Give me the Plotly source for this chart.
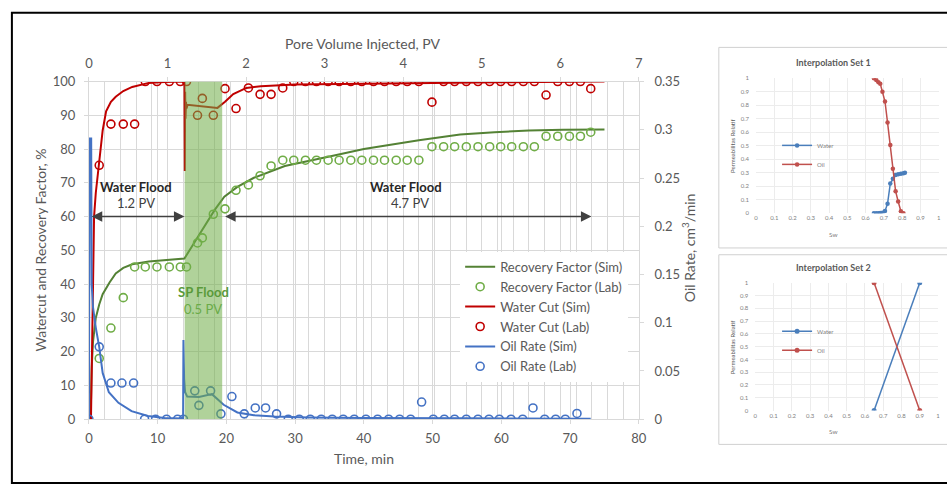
import plotly.graph_objects as go

W, H = 947, 494
FONT = "Lato"

# ---------------- main chart data ----------------
# Lab sampling times (min) for recovery factor and water cut
t_lab = [1.5, 3.2, 5.0, 6.65, 8.2, 9.9, 11.7, 13.3, 14.2, 15.8, 16.5, 18.1, 19.8, 21.4, 23.2,
         24.9, 26.5, 28.2, 29.8, 31.5, 33.1, 34.8, 36.4, 38.1, 39.7, 41.4, 43.0, 44.7, 46.3,
         48.0, 49.9, 51.6, 53.2, 54.9, 56.6, 58.3, 59.9, 61.5, 63.2, 64.8, 66.5, 68.2, 69.9,
         71.5, 73.0]
wc_lab = [75.2, 87.4, 87.4, 87.4, 100, 100, 100, 100, 100, 90.0, 95.0, 90.0, 97.9, 92.0, 98.1,
          96.2, 96.2, 98.1, 100, 100, 100, 100, 100, 100, 100, 100, 100, 100, 100,
          100, 93.9, 100, 100, 100, 100, 100, 100, 100, 100, 100, 96.0, 100, 100,
          100, 97.9]
rf_lab = [18.0, 27.0, 36.0, 45.1, 45.1, 45.1, 45.1, 45.1, 45.1, 52.2, 53.7, 60.7, 62.3, 67.8, 69.4,
          72.1, 75.0, 76.7, 76.7, 76.7, 76.7, 76.7, 76.7, 76.7, 76.7, 76.7, 76.7, 76.7, 76.7,
          76.7, 80.7, 80.7, 80.7, 80.7, 80.7, 80.7, 80.7, 80.7, 80.7, 80.7, 83.8, 83.8, 83.8,
          83.8, 85.0]

# Lab oil rate (cm3/min)
t_or_lab = [0, 1.5, 3.2, 4.8, 6.5, 8.1, 9.7, 11.3, 12.9, 13.75, 15.4, 16.0, 17.7, 19.2, 20.8,
            22.6, 24.2, 25.7, 27.3, 29.0, 30.6, 32.2, 33.8, 35.4, 37.0, 38.6, 40.3, 42.0, 43.6,
            45.2, 46.8, 48.4, 50.1, 51.7, 53.2, 54.9, 56.6, 58.2, 59.7, 61.4, 63.1, 64.6, 66.3,
            67.9, 69.3, 71.0]
or_lab = [0, 0.075, 0.0375, 0.0375, 0.0375, 0, 0, 0, 0, 0, 0.0294, 0.0144, 0.0294, 0.0056, 0.0235,
          0.0056, 0.0117, 0.0117, 0.0056, 0, 0, 0, 0, 0, 0, 0, 0, 0, 0,
          0, 0, 0.0178, 0, 0, 0, 0, 0, 0, 0, 0, 0, 0.0117, 0,
          0, 0, 0.006]

# Simulation curves
t_wc_sim = [0.3, 0.45, 0.6, 0.75, 1.0, 1.45, 2.0, 2.5, 3.2, 3.9, 5.0, 6.3, 8.7, 11.0, 13.9,
            13.95, 14.0, 14.05, 14.12, 14.2, 14.35, 16.0, 18.7, 19.8, 21.0, 22.9, 25.0, 30.0,
            40.0, 50.0, 60.0, 75.0]
wc_sim = [0, 20, 42, 60, 67, 75, 85.5, 91.2, 94.0, 95.5, 97.2, 98.4, 99.6, 99.9, 100,
          73.5, 97, 89, 94, 92, 93.1, 92.8, 92.2, 94.0, 96.3, 98.1, 98.6, 99.1,
          99.4, 99.6, 99.8, 100]

t_rf_sim = [0.25, 0.4, 0.6, 0.82, 1.0, 1.5, 2.0, 3.0, 3.9, 5.0, 6.3, 8.7, 11.0, 13.9, 16.0,
            18.3, 19.7, 21.6, 24.0, 28.5, 35.0, 40.0, 48.0, 54.0, 59.0, 64.0, 69.0, 75.0]
rf_sim = [0, 15, 23, 27.5, 30, 34, 37, 40.5, 43.2, 44.8, 45.9, 46.7, 47.1, 47.6, 54.5,
          62.0, 65.9, 68.8, 71.5, 75.0, 77.8, 80.0, 82.6, 84.3, 85.0, 85.5, 85.7, 85.8]

t_or_sim = [0, 0.1, 0.33, 0.4, 0.6, 1.0, 1.5, 2.0, 2.9, 4.3, 6.2, 8.6, 11.0, 13.7, 13.75,
            13.85, 14.0, 14.3, 16.0, 17.9, 19.6, 21.6, 24.0, 27.0, 32.0, 40.0, 55.0, 73.0]
or_sim = [0, 0.291, 0.291, 0.14, 0.116, 0.095, 0.075, 0.048, 0.028, 0.017, 0.0084, 0.0033,
          0.0014, 0.0007, 0.082, 0.042, 0.028, 0.0235, 0.023, 0.026, 0.015, 0.007, 0.0042,
          0.0028, 0.0018, 0.0012, 0.0009, 0.0005]

# Flood stages (min)
sp_start, sp_end = 13.93, 19.39
wf1_arrow = [0.19, 13.9]
wf2_arrow = [19.6, 73.1]
arrow_level = 60

oil_rate_ticks = [0, 0.05, 0.1, 0.15, 0.2, 0.25, 0.3, 0.35]
oil_rate_ticktext = ["0", "0.05", "0.1", "0.15", "0.2", "0.25", "0.3", "0.35"]

# ---------------- relative permeability panels ----------------
sw1 = [0.645, 0.658, 0.67, 0.68, 0.692, 0.706, 0.72, 0.735, 0.749, 0.764, 0.778, 0.793, 0.807, 0.815]
krw1 = [0, 0, 0, 0.001, 0.003, 0.015, 0.07, 0.22, 0.255, 0.283, 0.288, 0.292, 0.296, 0.3]
sw1_oil = [0.645, 0.658, 0.67, 0.68, 0.692, 0.706, 0.72, 0.735, 0.749, 0.764, 0.778, 0.793, 0.807]
kro1 = [1.0, 0.988, 0.971, 0.96, 0.90, 0.828, 0.672, 0.505, 0.33, 0.163, 0.086, 0.014, 0.0]

sw2 = [0.65, 0.9]
krw2 = [0, 1]
kro2 = [1, 0]

# ---------------- colours ----------------
GREEN_SIM = "#548235"
GREEN_LAB = "#70AD47"
RED = "#C00000"
BLUE = "#4472C4"
GRID = "#d9d9d9"
TXT = "#595959"
P_BLUE = "#4A7EBB"
P_RED = "#C0504D"


def px(x):
    return x / W


def py(y):
    return (H - y) / H


fig = go.Figure()

# main traces (legend order)
fig.add_trace(go.Scatter(x=t_rf_sim, y=rf_sim, mode="lines", name="Recovery Factor (Sim)",
                         line=dict(color=GREEN_SIM, width=2), xaxis="x", yaxis="y"))
fig.add_trace(go.Scatter(x=t_lab, y=rf_lab, mode="markers", name="Recovery Factor (Lab)",
                         marker=dict(symbol="circle-open", size=8, color=GREEN_LAB, line=dict(width=1.6)),
                         xaxis="x", yaxis="y"))
fig.add_trace(go.Scatter(x=t_wc_sim, y=wc_sim, mode="lines", name="Water Cut (Sim)",
                         line=dict(color=RED, width=2), xaxis="x", yaxis="y"))
fig.add_trace(go.Scatter(x=t_lab, y=wc_lab, mode="markers", name="Water Cut (Lab)",
                         marker=dict(symbol="circle-open", size=8, color=RED, line=dict(width=1.6)),
                         xaxis="x", yaxis="y"))
fig.add_trace(go.Scatter(x=t_or_sim, y=or_sim, mode="lines", name="Oil Rate (Sim)",
                         line=dict(color=BLUE, width=2), xaxis="x", yaxis="y2"))
fig.add_trace(go.Scatter(x=t_or_lab, y=or_lab, mode="markers", name="Oil Rate (Lab)",
                         marker=dict(symbol="circle-open", size=8, color=BLUE, line=dict(width=1.6)),
                         xaxis="x", yaxis="y2"))
# empty trace to register the PV (top) axis
fig.add_trace(go.Scatter(x=[], y=[], xaxis="x2", yaxis="y", showlegend=False, hoverinfo="skip"))

# panel 1
fig.add_trace(go.Scatter(x=sw1, y=krw1, mode="lines+markers", name="Water", legend="legend2",
                         line=dict(color=P_BLUE, width=1.5), marker=dict(size=4.5, color=P_BLUE),
                         xaxis="x3", yaxis="y3"))
fig.add_trace(go.Scatter(x=sw1_oil, y=kro1, mode="lines+markers", name="Oil", legend="legend2",
                         line=dict(color=P_RED, width=1.5), marker=dict(size=4.5, color=P_RED),
                         xaxis="x3", yaxis="y3"))
# panel 2
fig.add_trace(go.Scatter(x=sw2, y=krw2, mode="lines+markers", name="Water", legend="legend3",
                         line=dict(color=P_BLUE, width=1.5), marker=dict(size=5, color=P_BLUE),
                         xaxis="x4", yaxis="y4"))
fig.add_trace(go.Scatter(x=sw2, y=kro2, mode="lines+markers", name="Oil", legend="legend3",
                         line=dict(color=P_RED, width=1.5), marker=dict(size=5, color=P_RED),
                         xaxis="x4", yaxis="y4"))

tickfont = dict(family=FONT, size=13, color=TXT)
common = dict(showline=True, linecolor=GRID, linewidth=1, ticks="outside", ticklen=4,
              tickcolor=GRID, zeroline=False, tickfont=tickfont, gridcolor=GRID, gridwidth=1)

panel_ax = dict(range=[0, 1], dtick=0.1, showgrid=True, gridcolor="#ececec", zeroline=False,
                showline=False, ticks="", tickfont=dict(family=FONT, size=6, color="#7f7f7f"))

fig.update_layout(
    width=W, height=H, autosize=False,
    margin=dict(l=0, r=0, t=0, b=0),
    paper_bgcolor="white", plot_bgcolor="rgba(0,0,0,0)",
    font=dict(family=FONT, color=TXT),
    xaxis=dict(domain=[px(86), px(643)], range=[0, 80], dtick=10, anchor="y", showgrid=True,
               ticklabelstandoff=3, **common),
    xaxis2=dict(domain=[px(86), px(643)], range=[0, 7], dtick=1, overlaying="x", side="top",
                anchor="y", showgrid=True, ticklabelstandoff=3,
                minor=dict(dtick=0.2, showgrid=True, gridcolor=GRID, ticks=""), **common),
    yaxis=dict(domain=[py(425), py(76)], range=[0, 100], dtick=10, anchor="x", showgrid=True,
               ticklabelstandoff=6, **common),
    yaxis2=dict(domain=[py(425), py(76)], range=[0, 0.35], tickvals=oil_rate_ticks,
                ticktext=oil_rate_ticktext, overlaying="y", side="right", anchor="x",
                showgrid=False, ticklabelstandoff=8, **common),
    xaxis3=dict(domain=[px(761.7), px(946.7)], anchor="y3", **panel_ax),
    yaxis3=dict(domain=[py(212), py(72.7)], anchor="x3", ticklabelstandoff=6, **panel_ax),
    xaxis4=dict(domain=[px(761), px(946)], anchor="y4", **panel_ax),
    yaxis4=dict(domain=[py(416), py(284)], anchor="x4", ticklabelstandoff=6, **panel_ax),
    legend=dict(x=px(462), y=py(252), xanchor="left", yanchor="top", bgcolor="white",
                borderwidth=0, font=dict(family=FONT, size=13, color=TXT), itemwidth=30,
                tracegroupgap=0),
    legend2=dict(x=px(783), y=py(127), xanchor="left", yanchor="top", bgcolor="rgba(0,0,0,0)",
                 font=dict(family=FONT, size=6, color="#7f7f7f"), itemwidth=30),
    legend3=dict(x=px(783), y=py(319), xanchor="left", yanchor="top", bgcolor="rgba(0,0,0,0)",
                 font=dict(family=FONT, size=6, color="#7f7f7f"), itemwidth=30),
    showlegend=True,
)

# SP flood band (drawn above the curves, translucent)
fig.add_shape(type="rect", xref="x", yref="y", x0=sp_start, x1=sp_end, y0=0, y1=100,
              fillcolor="rgba(112,173,71,0.55)", line=dict(width=0), layer="above")

# outer frame and panel boxes
fig.add_shape(type="rect", xref="paper", yref="paper", x0=px(8), x1=px(1000), y0=py(491), y1=py(5),
              line=dict(color="black", width=2), fillcolor="rgba(0,0,0,0)", layer="above")
fig.add_shape(type="rect", xref="paper", yref="paper", x0=px(724), x1=px(1000), y0=py(248), y1=py(40.7),
              line=dict(color="#d0d0d0", width=1), layer="below")
fig.add_shape(type="rect", xref="paper", yref="paper", x0=px(724), x1=px(1000), y0=py(451), y1=py(255),
              line=dict(color="#d0d0d0", width=1), layer="below")

# arrows
for a in (wf1_arrow, wf2_arrow):
    fig.add_annotation(x=a[1], y=arrow_level, ax=a[0], ay=arrow_level, xref="x", yref="y",
                       axref="x", ayref="y", text="", showarrow=True, arrowside="end+start",
                       arrowhead=2, startarrowhead=2, arrowsize=1.4, startarrowsize=1.4,
                       arrowwidth=1.5, arrowcolor="#404040", standoff=0, startstandoff=0)


def label(text, x, y, size=13, color=TXT, angle=0):
    fig.add_annotation(text=text, x=px(x), y=py(y), xref="paper", yref="paper", showarrow=False,
                       xanchor="center", yanchor="middle", textangle=angle,
                       font=dict(family=FONT, size=size, color=color))


label("<b>Water Flood</b>", 133.5, 185, 13, "#262626")
label("1.2 PV", 134, 202, 13, "#404040")
label("<b>Water Flood</b>", 407.5, 185, 13, "#262626")
label("4.7 PV", 411, 202, 13, "#404040")
label("<b>SP Flood</b>", 202, 294, 13, "#5a9a3a")
label("0.5 PV", 202, 311, 13, "#6aab48")

label("Watercut and Recovery Factor, %", 37, 250, 14, TXT, -90)
label("Time, min", 365, 466, 14, TXT)
label("Pore Volume Injected, PV", 364, 37, 14, TXT)
label("Oil Rate, cm<sup>3</sup>/min", 694, 248, 14, TXT, -90)

label("<b>Interpolation Set 1</b>", 840, 56, 9, TXT)
label("Permeabilitas Relatif", 738, 142, 6, TXT, -90)
label("Sw", 840, 234, 6.5, "#7f7f7f")
label("<b>Interpolation Set 2</b>", 840, 268, 9, TXT)
label("Permeabilitas Relatif", 738, 350, 6, TXT, -90)
label("Sw", 840, 438, 6.5, "#7f7f7f")

fig.write_html("out.html")
